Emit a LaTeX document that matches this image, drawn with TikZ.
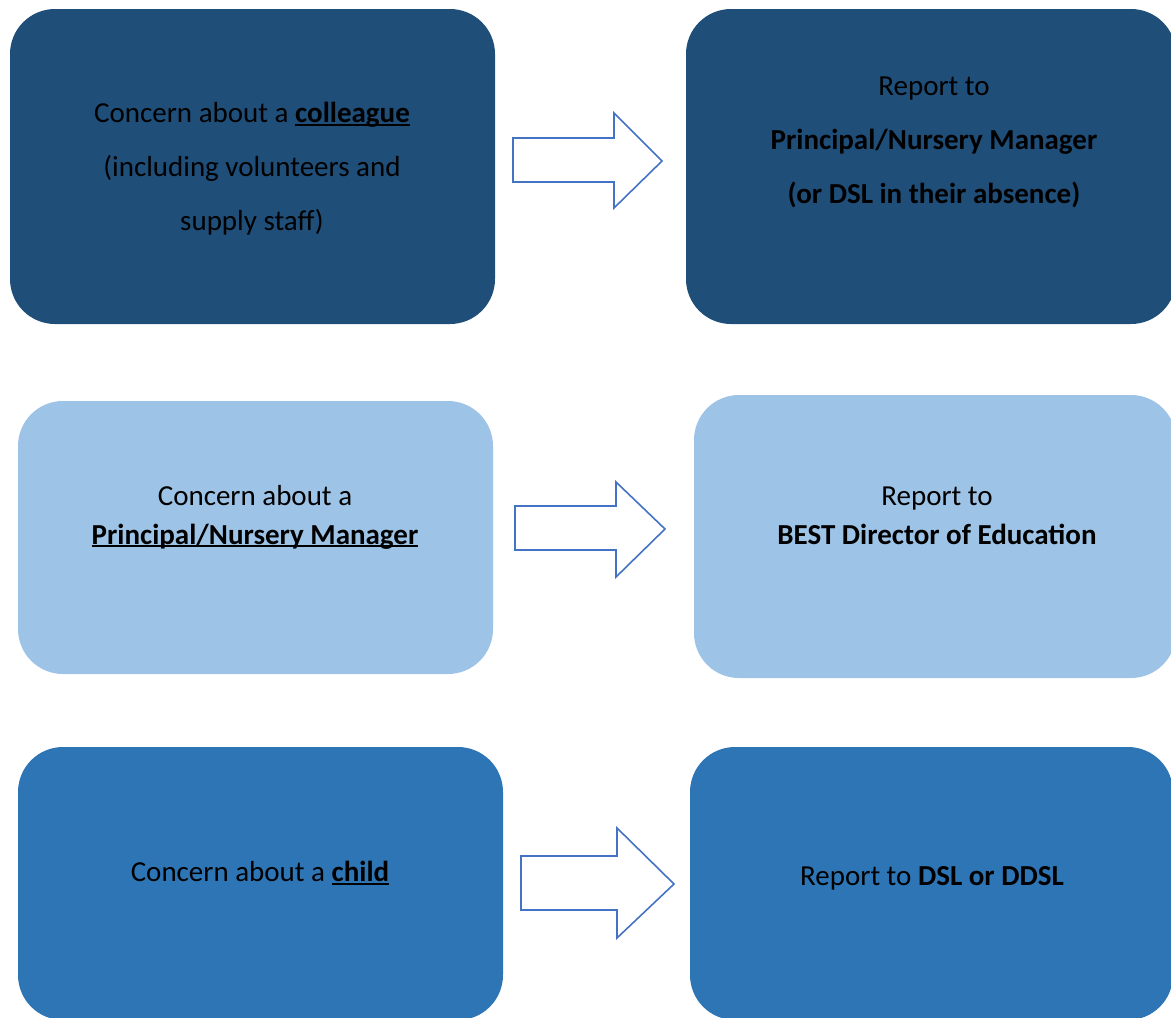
\documentclass[tikz,border=0pt]{standalone}
\usepackage{fontspec}
\setmainfont{Carlito}
\definecolor{navy}{HTML}{1F4E79}
\definecolor{lightblue}{HTML}{9DC3E6}
\definecolor{midblue}{HTML}{2E75B6}
\definecolor{arrowblue}{HTML}{4472C4}
\newcommand\myul[1]{\setbox0\hbox{#1}\rlap{\rule[-0.11em]{\wd0}{0.065em}}\box0}
\begin{document}
\begin{tikzpicture}[x=1pt,y=-1pt,
  box/.style={rectangle, rounded corners=45pt, draw=none, inner sep=0pt},
  txt/.style={align=center, text=black, inner sep=0pt},
  big/.style={font=\fontsize{29}{54}\selectfont},
  mid/.style={font=\fontsize{29}{39}\selectfont},
  blockarrow/.style={draw=arrowblue, line width=1.6pt, fill=white, line join=miter}]
\clip (0,0) rectangle (1171,1018);
\useasboundingbox (0,0) rectangle (1171,1018);
% boxes
\node[box, fill=navy, minimum width=485pt, minimum height=315pt] (c1) at (252.5,166.5) {};
\node[box, fill=navy, minimum width=490pt, minimum height=315pt] (r1) at (931,166.5) {};
\node[box, fill=lightblue, minimum width=475pt, minimum height=273pt] (c2) at (255.5,537.5) {};
\node[box, fill=lightblue, minimum width=482pt, minimum height=283pt] (r2) at (935,536.5) {};
\node[box, fill=midblue, minimum width=485pt, minimum height=273pt] (c3) at (260.5,883.5) {};
\node[box, fill=midblue, minimum width=483pt, minimum height=273pt] (r3) at (931.5,883.5) {};
% texts
\node[txt, big] (tc1) at (252,169) {Concern about a \textbf{\myul{colleague}}\\(including volunteers and\\supply staff)};
\node[txt, big] (tr1) at (934,142) {Report to\\\textbf{Principal/Nursery Manager}\\\textbf{(or DSL in their absence)}};
\node[txt, mid] (tc2) at (255,517) {Concern about a\\\textbf{\myul{Principal/Nursery Manager}}};
\node[txt, mid] (tr2) at (937,516) {Report to\\\textbf{BEST Director of Education}};
\node[txt, big] (tc3) at (260,873) {Concern about a \textbf{\myul{child}}};
\node[txt, big] (tr3) at (932,878) {Report to \textbf{DSL or DDSL}};
% block arrows
\draw[blockarrow] (513,138) -- (614,138) -- (614,113) -- (662,161) -- (614,208) -- (614,182) -- (513,182) -- cycle;
\draw[blockarrow] (515,506) -- (616,506) -- (616,482) -- (665,529) -- (616,577) -- (616,550) -- (515,550) -- cycle;
\draw[blockarrow] (521,856) -- (617,856) -- (617,828) -- (674,884) -- (617,938) -- (617,910) -- (521,910) -- cycle;
\end{tikzpicture}
\end{document}
